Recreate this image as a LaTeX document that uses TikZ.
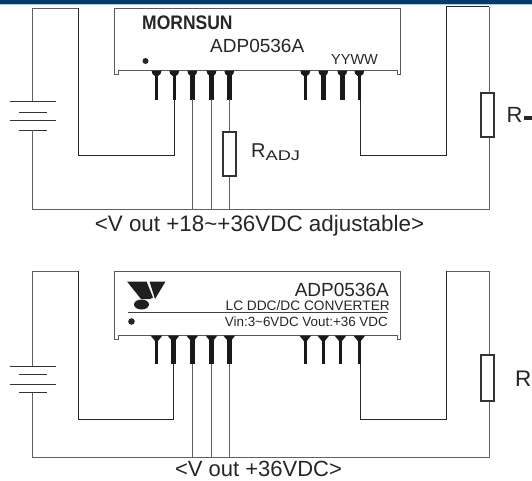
\documentclass[tikz,border=0pt]{standalone}
\usepackage{fontspec}
\setmainfont{Liberation Sans}
\newcommand{\fs}[1]{\fontsize{#1}{#1}\selectfont}
\definecolor{bandblue}{HTML}{003A70}
\definecolor{bandpale}{HTML}{B4C6D8}
\definecolor{wiregray}{HTML}{606060}
\tikzset{
	wire/.style={draw=wiregray,line width=0.9pt},
	darkwire/.style={draw=black!85,line width=0.8pt},
	body/.style={draw=black!65,line width=1pt},
	plate/.style={draw=black!80,line width=0.8pt},
	resbox/.style={draw=black!80,line width=1.1pt,fill=white,minimum width=13pt,minimum height=44pt,inner sep=0pt},
	lab/.style={inner sep=0pt,text=black!85},
}
\begin{document}
\begin{tikzpicture}[x=1pt,y=-1pt]
	\useasboundingbox (0,0) rectangle (532,480);
	\fill[bandblue] (0,0) rectangle (532,4);
	\fill[bandpale] (0,4) rectangle (532,5);
	% first circuit
	\draw[body] (114,74) -- (114,8) -- (400.5,8) -- (400.5,74) -- (397,74) -- (397,70) -- (118,70) -- (118,74) -- cycle;
	\fill[black!85] (145.5,61) circle (3);
	\foreach \x/\w/\n in {156.5/3/a,174.3/3/b,192.3/5/c,211.5/5/d,229.3/5/e,305.3/3/f,323.3/5/g,342.3/5/h,359.3/3/i}{
		\fill[black!90] (\x-5,70.5) -- (\x+5,70.5) -- (\x+4,74) -- (\x+1.5,76) -- (\x-1.5,76) -- (\x-4,74) -- cycle;
		\draw[line width=\w pt,black!90] (\x,74) -- (\x,99.5);
		\coordinate (p\n) at (\x,99);
	}
	\node[lab,anchor=base west,font=\bfseries\fs{17.5}] (brand) at (142,29) {\scalebox{1}[1.12]{MORNSUN}};
	\node[lab,anchor=base west,font=\fs{19}] (part) at (210,52.5) {ADP0536A};
	\node[lab,anchor=base west,font=\fs{14.5}] (date) at (331,64) {YYWW};
	\foreach \y/\l/\n in {101/23/a,112/14/b,120/23/c,130/14/d}
		\draw[plate] (32.5-\l,\y) -- (32.5+\l,\y) coordinate[midway] (bat\n);
	\coordinate (lt) at (78.5,8);
	\coordinate (lb) at (78.5,155);
	\coordinate (rb) at (446,155);
	\coordinate (rt) at (446,6.5);
	\coordinate (gnd) at (32.5,209);
	\coordinate (gndr) at (489,209);
	\coordinate (tr) at (489,6.5);
	\node[resbox] (radj) at (229.5,154) {};
	\node[resbox] (rload) at (487.5,115) {};
	\draw[wire] (bata) |- (lt);
	\draw[darkwire] (lt) -- (lb) -| (pb);
	\draw[wire] (batd) -- (gnd) -- (gndr) -- (rload.south -| gndr);
	\draw[wire] (rload.north -| gndr) -- (tr);
	\draw[darkwire] (tr) -- (rt) -- (rb) -- (360.5,155) -- (360.5,99);
	\draw[wire] (pc) -- (pc |- gnd);
	\draw[wire] (pd) -- (pd |- gnd);
	\draw[wire] (pe) -- (radj.north -| pe);
	\draw[wire] (radj.south -| pe) -- (pe |- gnd);
	\node[lab,anchor=base west,font=\fs{20}] (radjlab) at (251,157) {R\raisebox{-3pt}{\fs{14}\scalebox{1.3}[1]{ADJ}}};
	\node[lab,anchor=base west,font=\fs{22}] (rloadlab) at (506.5,122.5) {R};
	\fill[black!85] (524,116) rectangle (532,120);
	\node[lab,anchor=base,font=\fs{22.4}] (captop) at (259.5,231) {<V out +18\textasciitilde+36VDC adjustable>};
	% second circuit
	\draw[body] (114,339) -- (114,271) -- (400.5,271) -- (400.5,339) -- (397,339) -- (397,335) -- (118,335) -- (118,339) -- cycle;
	\fill[black!85] (131.5,321.5) circle (3.3);
	\draw[black!75,line width=0.9pt] (128,312) -- (388,312);
	\fill[black!88] (127,281.5) -- (146.5,281.5) -- (153,297.5) -- (150,299) -- (141,299) -- cycle;
	\fill[black!88] (149.5,281.5) -- (165.5,281.5) -- (155,299) -- cycle;
	\fill[black!88] (141.5,304.5) ellipse (7.5 and 5);
	\foreach \x/\w/\n in {156.5/3/a,173.5/5/b,192.3/5/c,211.5/5/d,229.3/5/e,305.3/3/f,323.3/3/g,340.5/3/h,359.3/3/i}{
		\fill[black!90] (\x-6,335.5) -- (\x+6,335.5) -- (\x+1.5,341) -- (\x-1.5,341) -- cycle;
		\draw[line width=\w pt,black!90] (\x,339) -- (\x,364);
		\coordinate (q\n) at (\x,364);
	}
	\node[lab,anchor=base east,font=\fs{19}] (parttwo) at (389,296) {ADP0536A};
	\node[lab,anchor=base east,font=\fs{13.7}] (conv) at (390,310.5) {LC DDC/DC CONVERTER};
	\node[lab,anchor=base east,font=\fs{13.4}] (spec) at (388,326) {Vin:3\textasciitilde6VDC Vout:+36 VDC};
	\foreach \y/\l/\n in {366/23/a,374/14/b,384.5/23/c,392.5/14/d}
		\draw[plate] (32.5-\l,\y) -- (32.5+\l,\y) coordinate[midway] (cel\n);
	\coordinate (ltb) at (78.5,271);
	\coordinate (lbb) at (78.5,419.5);
	\coordinate (rbb) at (446,419.5);
	\coordinate (rtb) at (446,271);
	\coordinate (gndb) at (32.5,457);
	\coordinate (gndrb) at (489,457);
	\coordinate (trb) at (489,271);
	\node[resbox,minimum height=46pt] (rloadb) at (487.5,378) {};
	\draw[wire] (cela) |- (ltb);
	\draw[darkwire] (ltb) -- (lbb) -| (qb);
	\draw[wire] (celd) -- (gndb) -- (gndrb) -- (rloadb.south -| gndrb);
	\draw[wire] (rloadb.north -| gndrb) -- (trb) -- (rtb);
	\draw[darkwire] (rtb) -- (rbb) -- (360.5,419.5) -- (360.5,364);
	\draw[wire] (qc) -- (qc |- gndb);
	\draw[wire] (qd) -- (qd |- gndb);
	\draw[wire] (qe) -- (qe |- gndb);
	\node[lab,anchor=base west,font=\fs{22.5}] (rloadblab) at (515,386.5) {R};
	\node[lab,anchor=base,font=\fs{22}] (capbot) at (258.5,476) {<V out +36VDC>};
\end{tikzpicture}
\end{document}
